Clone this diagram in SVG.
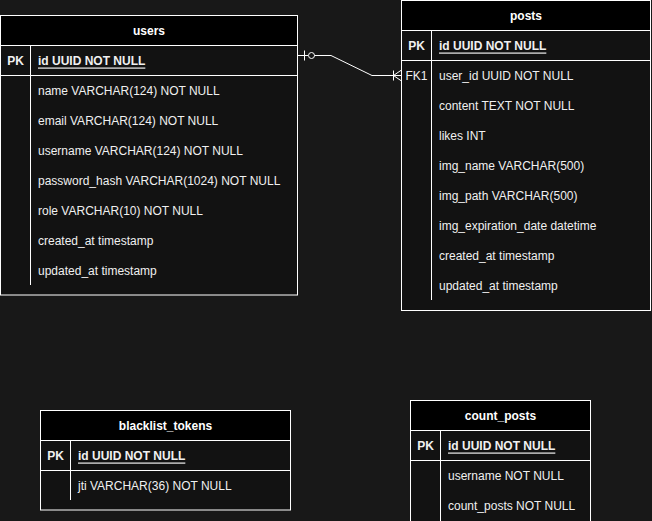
<svg xmlns="http://www.w3.org/2000/svg" width="652" height="521" viewBox="0 0 652 521">
<style>
.bg{fill:#181818}
.hd{fill:#000;stroke:#fff;stroke-width:1}
.body{fill:#121212;stroke:#fff;stroke-width:1}
.ln{stroke:#fff;stroke-width:1;fill:none}
text{font-family:"Liberation Sans",Arial,sans-serif;font-size:12px;fill:#f0f0f0;dominant-baseline:central}
.t{font-weight:bold;text-anchor:middle;fill:#fff}
.k{font-weight:bold;text-anchor:middle}
.kn{text-anchor:middle}
.pk{font-weight:bold;text-decoration:underline}
.cn{stroke:#fff;stroke-width:1;fill:none}
</style>
<rect class="bg" x="0" y="0" width="652" height="521"/>
<g id="users">
<rect class="body" x="0.5" y="15.5" width="297" height="279.5"/>
<rect class="hd" x="0.5" y="15.5" width="297" height="30"/>
<line class="ln" x1="0.5" y1="75.5" x2="297.5" y2="75.5"/>
<line class="ln" x1="30.5" y1="45.5" x2="30.5" y2="285"/>
<text class="t" x="149" y="30.5">users</text>
<text class="k" x="15.5" y="60.5">PK</text>
<text class="pk" x="38" y="60.5">id UUID NOT NULL</text>
<text x="38" y="90.5">name VARCHAR(124) NOT NULL</text>
<text x="38" y="120.5">email VARCHAR(124) NOT NULL</text>
<text x="38" y="150.5">username VARCHAR(124) NOT NULL</text>
<text x="38" y="180.5">password_hash VARCHAR(1024) NOT NULL</text>
<text x="38" y="210.5">role VARCHAR(10) NOT NULL</text>
<text x="38" y="240.5">created_at timestamp</text>
<text x="38" y="270.5">updated_at timestamp</text>
</g>
<g id="posts">
<rect class="body" x="401.5" y="0.5" width="249" height="310"/>
<rect class="hd" x="401.5" y="0.5" width="249" height="30"/>
<line class="ln" x1="401.5" y1="60.5" x2="650.5" y2="60.5"/>
<line class="ln" x1="431.5" y1="30.5" x2="431.5" y2="300"/>
<text class="t" x="526" y="15.5">posts</text>
<text class="k" x="416.5" y="45.5">PK</text>
<text class="pk" x="439" y="45.5">id UUID NOT NULL</text>
<text class="kn" x="416.5" y="75.5">FK1</text>
<text x="439" y="75.5">user_id UUID NOT NULL</text>
<text x="439" y="105.5">content TEXT NOT NULL</text>
<text x="439" y="135.5">likes INT</text>
<text x="439" y="165.5">img_name VARCHAR(500)</text>
<text x="439" y="195.5">img_path VARCHAR(500)</text>
<text x="439" y="225.5">img_expiration_date datetime</text>
<text x="439" y="255.5">created_at timestamp</text>
<text x="439" y="285.5">updated_at timestamp</text>
</g>
<g id="blacklist_tokens">
<rect class="body" x="40.5" y="410.5" width="250" height="99.5"/>
<rect class="hd" x="40.5" y="410.5" width="250" height="30"/>
<line class="ln" x1="40.5" y1="470.5" x2="290.5" y2="470.5"/>
<line class="ln" x1="70.5" y1="440.5" x2="70.5" y2="500"/>
<text class="t" x="165.5" y="425.5">blacklist_tokens</text>
<text class="k" x="55.5" y="455.5">PK</text>
<text class="pk" x="78" y="455.5">id UUID NOT NULL</text>
<text x="78" y="485.5">jti VARCHAR(36) NOT NULL</text>
</g>
<g id="count_posts">
<rect class="body" x="410.5" y="400.5" width="180" height="130"/>
<rect class="hd" x="410.5" y="400.5" width="180" height="30"/>
<line class="ln" x1="410.5" y1="460.5" x2="590.5" y2="460.5"/>
<line class="ln" x1="440.5" y1="430.5" x2="440.5" y2="521"/>
<text class="t" x="500.5" y="415.5">count_posts</text>
<text class="k" x="425.5" y="445.5">PK</text>
<text class="pk" x="448" y="445.5">id UUID NOT NULL</text>
<text x="448" y="475.5">username NOT NULL</text>
<text x="448" y="505.5">count_posts NOT NULL</text>
</g>
<g id="connectors">
<path class="cn" d="M297.5 55.5 H308 M314.5 55.5 H331 L372 75.5 H401.5"/>
<line class="cn" x1="304.5" y1="50.5" x2="304.5" y2="60.5"/>
<circle class="cn" cx="311.5" cy="55.5" r="3"/>
<line class="cn" x1="393.5" y1="70.5" x2="393.5" y2="80.5"/>
<path class="cn" d="M401.5 70 L393.5 75.5 L401.5 81"/>
</g>
</svg>
